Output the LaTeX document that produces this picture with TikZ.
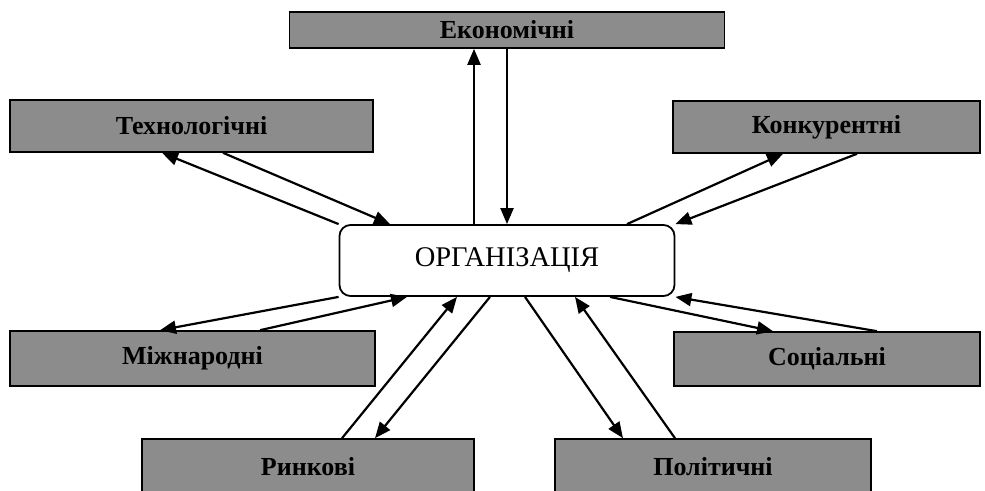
\documentclass[tikz,border=0pt]{standalone}
\usepackage{fontspec}
\setmainfont{Liberation Serif}
\usetikzlibrary{arrows.meta}
\definecolor{boxgray}{gray}{0.55}

\begin{document}
\begin{tikzpicture}[x=1pt,y=-1pt,
  factor/.style={draw=black,line width=1.6pt,fill=boxgray,inner sep=0pt,
    font=\fontsize{26}{30}\selectfont\bfseries},
  arr/.style={line width=2.2pt,-{Triangle[length=16pt,width=13pt]}}]
\useasboundingbox (0,0) rectangle (985,490);
\clip (0,0) rectangle (985,490);

% factors round the organisation
\node[factor,minimum width=435pt,minimum height=36pt] (econ) at (507,30) {Економічні};
\node[factor,minimum width=363pt,minimum height=52pt] (tech) at (191.5,126) {Технологічні};
\node[factor,minimum width=307pt,minimum height=52pt] (konk) at (826.5,127) {Конкурентні};
\node[factor,minimum width=365pt,minimum height=55pt] (mizh) at (192.5,358.5) {Міжнародні};
\node[factor,minimum width=306pt,minimum height=54pt] (sots) at (827,359) {Соціальні};
\node[factor,minimum width=332pt,minimum height=56pt] (rynk) at (308,467) {Ринкові};
\node[factor,minimum width=316pt,minimum height=56pt] (polit) at (713,467) {Політичні};

\node[draw,rounded corners=11pt,line width=1.8pt,minimum width=335pt,minimum height=71pt,
  font=\fontsize{28.5}{32}\selectfont] (org) at (507,260.5) {ОРГАНІЗАЦІЯ};

\draw[arr] ([xshift=-33pt]org.north) -- ([xshift=-33pt]econ.south);
\draw[arr] (econ.south) -- (org.north);

\draw[arr] (org.north west) -- ([xshift=-29.5pt]tech.south);
\draw[arr] ([xshift=31.5pt]tech.south) -- ([xshift=-117pt]org.north);

\draw[arr] ([xshift=120pt]org.north) -- ([xshift=-43.5pt]konk.south);
\draw[arr] ([xshift=30.5pt]konk.south) -- (org.north east);

\draw[arr] (org.south west) -- ([xshift=-32.5pt]mizh.north);
\draw[arr] ([xshift=67.5pt]mizh.north) -- ([xshift=-100pt]org.south);

\draw[arr] ([xshift=103pt]org.south) -- ([xshift=-54pt]sots.north);
\draw[arr] ([xshift=50pt]sots.north) -- (org.south east);

\draw[arr] ([xshift=34pt]rynk.north) -- ([xshift=-50pt]org.south);
\draw[arr] ([xshift=-17pt]org.south) -- ([xshift=67pt]rynk.north);

\draw[arr] ([xshift=18pt]org.south) -- ([xshift=-90pt]polit.north);
\draw[arr] ([xshift=-38pt]polit.north) -- ([xshift=68pt]org.south);

\end{tikzpicture}
\end{document}
